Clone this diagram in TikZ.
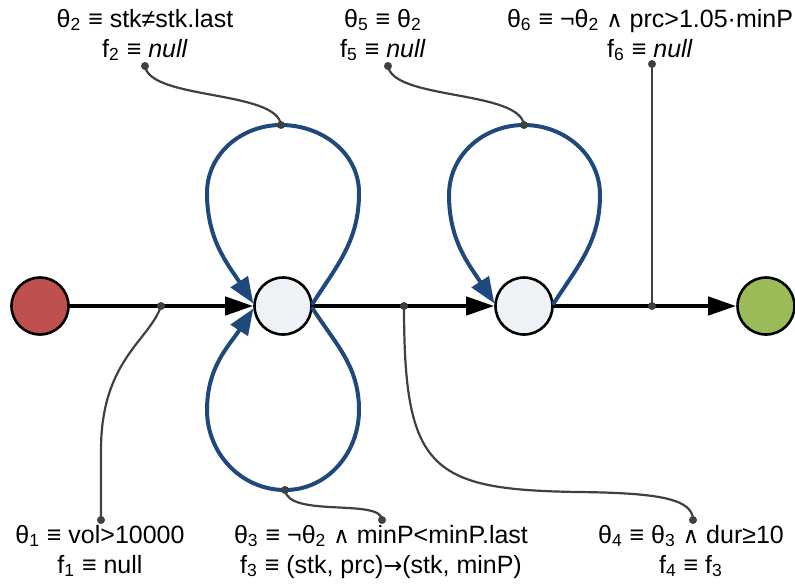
\documentclass[tikz,border=0pt]{standalone}
\usepackage{fontspec}
\setmainfont{Liberation Sans}
\newfontfamily\symfont[Scale=0.9]{DejaVu Sans}
\usetikzlibrary{arrows.meta}
\definecolor{startred}{RGB}{192,80,77}
\definecolor{endgreen}{RGB}{155,187,89}
\definecolor{statefill}{RGB}{238,241,246}
\definecolor{loopblue}{RGB}{31,73,125}
\definecolor{notegray}{RGB}{64,64,64}
\newcommand{\wedgeop}{{\symfont ∧}}
\newcommand{\mapsop}{{\symfont →}}
\tikzset{
  state/.style={circle, draw=black, line width=1.3pt, minimum size=28.5pt, inner sep=0pt, fill=statefill},
  trans/.style={line width=2.2pt, -{Triangle[length=14pt,width=9pt]}},
  selfloop/.style={draw=loopblue, line width=2pt, -{Triangle[length=13pt,width=10pt]}},
  note/.style={draw=notegray, line width=1.1pt},
  cond/.style={align=center, anchor=base}
}
\begin{document}
\begin{tikzpicture}[x=0.5pt, y=-0.5pt, font=\fontsize{12.5}{15}\selectfont, line join=round, line cap=round]
		\useasboundingbox (0,0) rectangle (795,585);
		% states
		\node[state, fill=startred] (s0) at (40,306) {};
		\node[state] (s1) at (283,306) {};
		\node[state] (s2) at (524,306) {};
		\node[state, fill=endgreen] (s3) at (766,306) {};
		% points on the edges
		\coordinate (p1) at (161,306);
		\coordinate (p4) at (404,306);
		\coordinate (p6) at (652,306);
		\coordinate (t1) at (281,125);
		\coordinate (b1) at (285,490);
		\coordinate (t2) at (524,125);
		% ends next to the labels
		\coordinate (d1) at (101,520);
		\coordinate (d2) at (145,66);
		\coordinate (d3) at (382,520);
		\coordinate (d4) at (693,520);
		\coordinate (d5) at (388,66);
		\coordinate (d6) at (652,64);
		% transitions
		\draw[trans] (s0) -- (s1);
		\draw[trans] (s1) -- (s2);
		\draw[trans] (s2) -- (s3);
		% self loops
		\draw[selfloop] (s1.5) to[out=57,in=-90] (359,193) to[out=90,in=0] (t1) to[out=180,in=90] (207,193) to[out=-90,in=123] (s1.175);
		\draw[selfloop] (s1.-5) to[out=-57,in=90] (359,410) to[out=-90,in=0] (b1) to[out=180,in=-90] (207,410) to[out=90,in=-123] (s1.-175);
		\draw[selfloop] (s2.5) to[out=57,in=-90] (600,195) to[out=90,in=0] (t2) to[out=180,in=90] (449,195) to[out=-90,in=123] (s2.175);
		% notes
		\draw[note] (p1) .. controls (150,340) and (101,360) .. (101,450) -- (d1);
		\draw[note] (d2) .. controls (150,100) and (277,90) .. (t1);
		\draw[note] (b1) .. controls (288,518) and (382,498) .. (d3);
		\draw[note] (p4) .. controls (404,470) and (430,490) .. (580,492) .. controls (655,493) and (693,498) .. (d4);
		\draw[note] (d5) .. controls (393,100) and (520,90) .. (t2);
		\draw[note] (d6) -- (p6);
		\foreach \p in {p1,p4,p6,t1,b1,t2,d1,d2,d3,d4,d5,d6}
			\fill[notegray] (\p) circle (2pt);
		% labels (base = last line)
		\node[cond] (c2) at (145,57) {θ\textsubscript{2} ≡ stk≠stk.last\\ f\textsubscript{2} ≡ \textit{null}};
		\node[cond] (c5) at (383,57) {θ\textsubscript{5} ≡ θ\textsubscript{2}\\ f\textsubscript{5} ≡ \textit{null}};
		\node[cond] (c6) at (650,57) {θ\textsubscript{6} ≡ ¬θ\textsubscript{2} \wedgeop{} prc>1.05·minP\\ f\textsubscript{6} ≡ \textit{null}};
		\node[cond] (c1) at (100,573) {θ\textsubscript{1} ≡ vol>10000\\ f\textsubscript{1} ≡ null};
		\node[cond] (c3) at (381,573) {θ\textsubscript{3} ≡ ¬θ\textsubscript{2} \wedgeop{} minP<minP.last\\ f\textsubscript{3} ≡ (stk, prc)\mapsop(stk, minP)};
		\node[cond] (c4) at (691,573) {θ\textsubscript{4} ≡ θ\textsubscript{3} \wedgeop{} dur≥10\\ f\textsubscript{4} ≡ f\textsubscript{3}};
\end{tikzpicture}
\end{document}
